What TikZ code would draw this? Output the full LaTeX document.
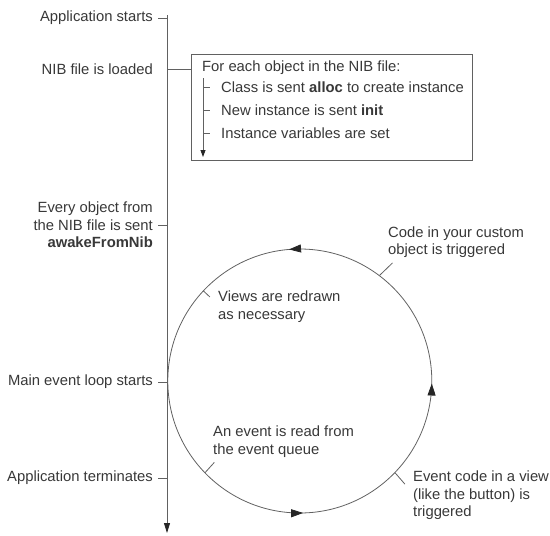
\documentclass[tikz,border=0pt]{standalone}
\usepackage{fontspec}
\setmainfont{Liberation Sans}
\usetikzlibrary{arrows.meta,positioning,decorations.markings}
\colorlet{ink}{black!78}
\colorlet{rule}{black!62}

\begin{document}
\begin{tikzpicture}[x=1pt, y=1pt, node distance=14pt,
    every node/.style={font=\fontsize{14.8}{17.5}\selectfont, text=ink, inner sep=0pt},
    lbl/.style={align=left},
    lblr/.style={align=right},
    line/.style={draw=rule, line width=0.8pt},
    tip/.style={-{Triangle[length=10pt,width=6pt,color=black!85]}},
    flow/.style={postaction={decorate}, decoration={markings,
        mark=at position 0.254 with {\arrow{Triangle[length=12pt,width=8pt,color=black!85]}},
        mark=at position 0.497 with {\arrow{Triangle[length=12pt,width=8pt,color=black!85]}},
        mark=at position 0.763 with {\arrow{Triangle[length=12pt,width=8pt,color=black!85]}}}}]
    \useasboundingbox (0,0) rectangle (550,-536);

    \coordinate (top) at (167,-15);
    \coordinate (bottom) at (167,-533);
    \draw[line, tip] (top) -- (bottom);

    \coordinate (tstart) at (167,-18);
    \coordinate (tnib) at (167,-69);
    \coordinate (tawake) at (167,-225);
    \coordinate (tloop) at (167,-382);
    \coordinate (tend) at (167,-478);

    \node[lblr, left=of tstart] (start) {Application starts};
    \node[lblr, left=of tnib] (nib) {NIB file is loaded};
    \node[lblr, left=of tawake] (awake) {Every object from\\the NIB file is sent\\\textbf{awakeFromNib}};
    \node[lblr, left=of tloop] (mainloop) {Main event loop starts};
    \node[lblr, left=of tend] (quit) {Application terminates};
    \draw[line] (tstart) -- ++(-9,0);
    \draw[line] (tawake) -- ++(-9,0);
    \draw[line] (tloop) -- ++(-9,0);
    \draw[line] (tend) -- ++(-9,0);

    \node[draw=rule, line width=0.8pt, minimum width=281pt, minimum height=106pt, anchor=north west] (nibbox) at (191,-54) {};
    \draw[line] (tnib) -- (tnib -| nibbox.west);
    \node[lbl, anchor=west] (foreach) at (202,-68) {For each object in the NIB file:};
    \coordinate (subtop) at (203,-78);
    \coordinate (subend) at (203,-157);
    \draw[line, -{Triangle[length=7pt,width=5pt,color=black!85]}] (subtop) -- (subend);
    \foreach \y/\name/\txt in {87/alloc/{Class is sent \textbf{alloc} to create instance},
        110/init/{New instance is sent \textbf{init}},
        133/ivars/{Instance variables are set}} {
      \coordinate (s\name) at (203,-\y);
      \node[lbl, right=18pt of s\name] (\name) {\txt};
      \draw[line] (s\name) -- ++(7,0);
    }

    \node[circle, minimum size=264pt] (loop) at (300,-381) {};
    \draw[line, flow] (loop.180) arc[start angle=180, end angle=540, radius=132];

    \draw[line] (loop.137) -- ++(-43:9);
    \node[lbl, anchor=west] (redraw) at (218,-306.5) {Views are redrawn\\as necessary};
    \draw[line] (loop.53.6) -- ++(44:18);
    \node[lbl, anchor=west] (custom) at (388,-242) {Code in your custom\\object is triggered};
    \draw[line] (loop.224) -- ++(48:14);
    \node[lbl, anchor=west] (queue) at (213,-441.5) {An event is read from\\the event queue};
    \draw[line] (loop.316) -- ++(-49:15);
    \node[lbl, anchor=west] (viewcode) at (413,-495.5) {Event code in a view\\(like the button) is\\triggered};
\end{tikzpicture}
\end{document}
